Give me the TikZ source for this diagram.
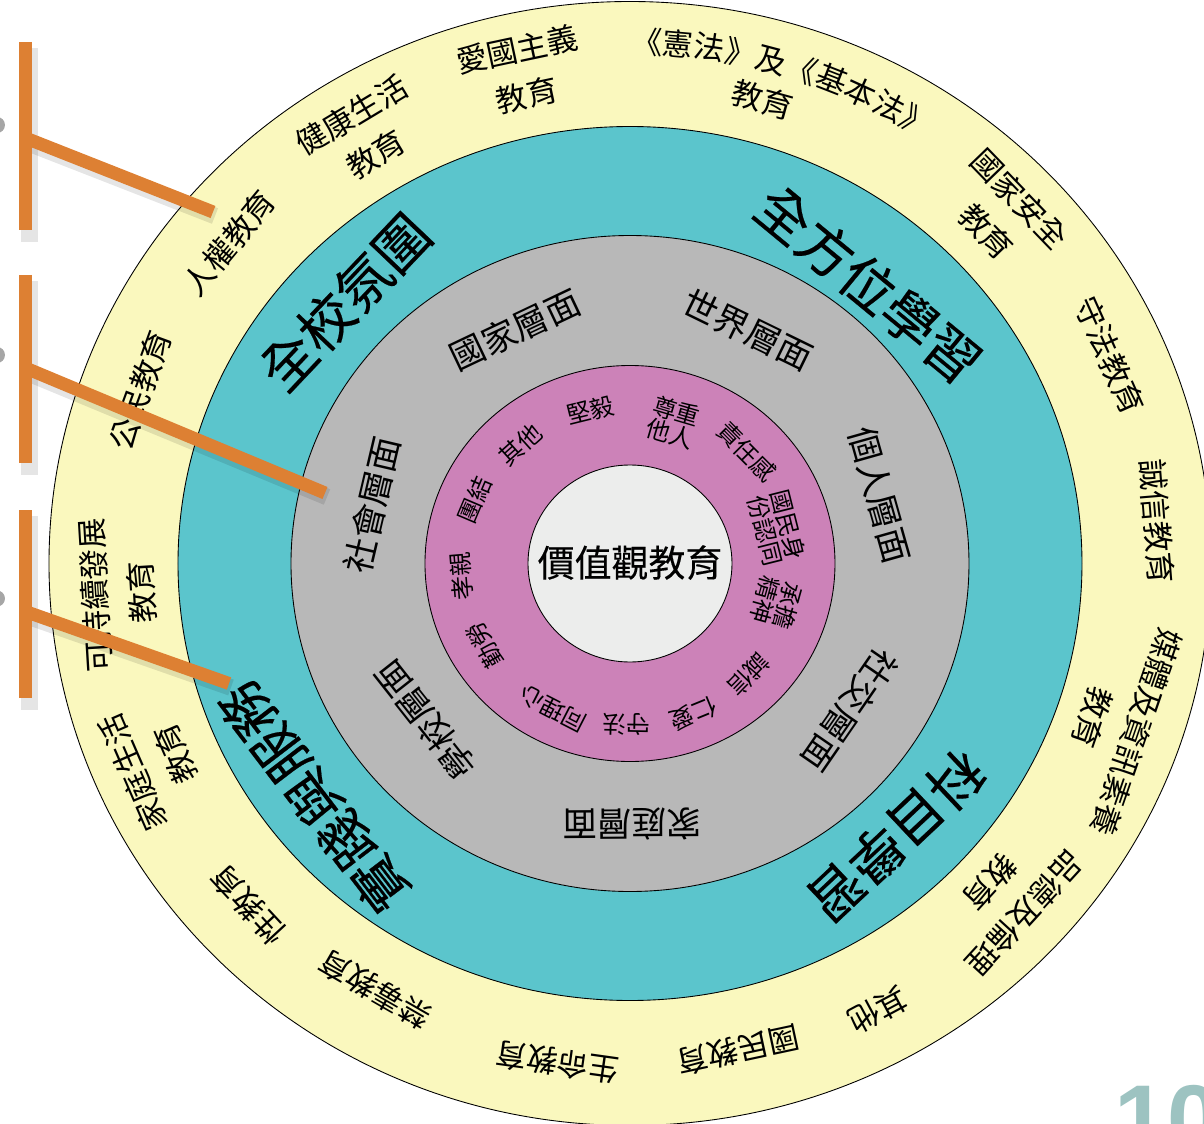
\documentclass[tikz,border=0pt]{standalone}
\usepackage{fontspec}
\newfontfamily\cjk{Noto Sans CJK TC}
\newfontfamily\cjkheavy[FakeBold=0.35]{Noto Sans CJK TC}
\newfontfamily\cjkmid[FakeBold=0.3]{Noto Sans CJK TC}
\newfontfamily\numfont{Liberation Sans}
\usetikzlibrary{decorations.text}
\definecolor{ringyellow}{RGB}{250,248,190}
\definecolor{ringteal}{RGB}{91,197,204}
\definecolor{ringgray}{RGB}{184,184,184}
\definecolor{ringpink}{RGB}{204,130,184}
\definecolor{ringcore}{RGB}{236,237,236}
\definecolor{barorange}{RGB}{221,128,51}
\definecolor{numgray}{RGB}{157,195,193}
\tikzset{
    ring/.style={draw=black, line width=0.5pt},
    outerlabel/.style={font=\cjk\fontsize{17.6}{26.5}\selectfont, align=center, inner sep=0pt},
    teallabel/.style={font=\cjkheavy\fontsize{31}{34}\selectfont, inner sep=0pt},
    graylabel/.style={font=\cjk\fontsize{19.8}{22}\selectfont, inner sep=0pt},
    pinklabel/.style={font=\cjk\fontsize{13.6}{11.6}\selectfont, align=center, inner sep=0pt},
    orangebar/.style={draw=barorange, line width=7.4pt},
    barshadow/.style={draw=black, opacity=0.10, line width=9.5pt}
}
\begin{document}
\begin{tikzpicture}[x=0.02cm, y=0.02cm]
    \useasboundingbox (-630,-559.5) rectangle (574,563.5);
    \clip (-630,-559.5) rectangle (574,563.5);
    % Draw the rings
    \draw[ring, fill=ringyellow] (0,0) ellipse [x radius=581, y radius=562];
    \draw[ring, fill=ringteal] (0,0) ellipse [x radius=452, y radius=437];
    \draw[ring, fill=ringgray] (0,0) ellipse [x radius=339, y radius=328];
    \draw[ring, fill=ringpink] (0,0) ellipse [x radius=205, y radius=198];
    \draw[ring, fill=ringcore] (0,0) ellipse [x radius=102, y radius=98.5];
    % Core label
    \node[font=\cjkmid\fontsize{21}{24}\selectfont, inner sep=0pt] (core) at (0,1) {價值觀教育};
    % Outer ring labels
    \foreach \a/\r/\txt [count=\i] in {140.4/503/人權教育, 121/500/健康生活\\教育,
            102/502/愛國主義\\教育, 74.6/481/教育, 44/501/國家安全\\教育,
            24.2/508/守法教育, 4.7/511/誠信教育, -19/495/媒體及資訊素養\\教育,
            -42.5/495/品德及倫理\\教育, -61.8/507/其他, -77.9/498/國民教育,
            -98/504/生命教育, -120/492.5/禁毒教育, -137.2/503/性教育,
            -156.5/501/家庭生活\\教育, -176.5/495/可持續發展\\教育, 159.9/504/公民教育} {
            \node[outerlabel, rotate=\a-90] (out\i) at ({1.035*\r*cos(\a)},{\r*sin(\a)}) {\txt};
        }
    % Curved title line on the top
    \path[decorate, decoration={text along path, text align=center,
                text={|\cjk\fontsize{17.6}{20}\selectfont|《憲法》及《基本法》}}]
        ({1.035*510*cos(97)},{510*sin(97)}) arc [start angle=97, end angle=49, x radius=527.85, y radius=510];
    % Teal ring labels
    \foreach \a/\r/\txt [count=\i] in {136.5/380/全校氛圍, 50.5/362/全方位學習,
            -46.7/375/科目學習, -142.6/385/實踐與服務} {
            \node[teallabel, rotate=\a-90] (teal\i) at ({1.035*\r*cos(\a)},{\r*sin(\a)}) {\txt};
        }
    % Gray ring labels
    \foreach \a/\r/\txt [count=\i] in {115.4/259/國家層面, 64/260/世界層面, 15.8/251/個人層面,
            -34.6/258/社交層面, -89.6/261/家庭層面, -141.7/252/學校層面, 166.8/256/社會層面} {
            \node[graylabel, rotate=\a-90] (gray\i) at ({1.035*\r*cos(\a)},{\r*sin(\a)}) {\txt};
        }
    % Pink ring labels
    \foreach \a/\r/\txt [count=\i] in {103.9/158/堅毅, 73.5/147/尊重\\他人, 44.8/159/責任感,
            14.1/146/國民身\\份認同, -15.6/147/承擔\\精神, -44.3/160/誠信, -67.8/162/仁愛,
            -91.1/161/守法, -117.1/163/同理心, -149.8/162/勤勞, -175.4/163/孝親,
            157/163/團結, 131.9/159/其他} {
            \node[pinklabel, rotate=\a-90] (pink\i) at ({1.035*\r*cos(\a)},{\r*sin(\a)}) {\txt};
        }
    % Bars on the left
    \foreach \ya/\yb/\yc/\xe/\ye [count=\i] in {521.5/333.5/425.5/-417/351.5,
            288.5/100.5/195.5/-305/70.5, 53.5/-134.5/-48/-401/-120} {
            \coordinate (T\i) at (-604.5,\ya);
            \coordinate (B\i) at (-604.5,\yb);
            \coordinate (J\i) at (-604.5,\yc);
            \coordinate (E\i) at (\xe,\ye);
            \fill[black, opacity=0.35] (-633,\yc+13) circle (8);
            \draw[barshadow] (-600.5,\ya-6) -- (-600.5,\yb-12);
            \draw[barshadow] (-604.5,\yc-4) -- (\xe+2,\ye-4);
            \draw[orangebar] (J\i) -- (E\i);
            \draw[orangebar] (T\i) -- (B\i);
        }
    % Page number
    \node[anchor=north west, inner sep=0pt, text=numgray,
        font=\numfont\bfseries\fontsize{54}{60}\selectfont] (pagenum) at (484,-521.5) {10};
\end{tikzpicture}
\end{document}
